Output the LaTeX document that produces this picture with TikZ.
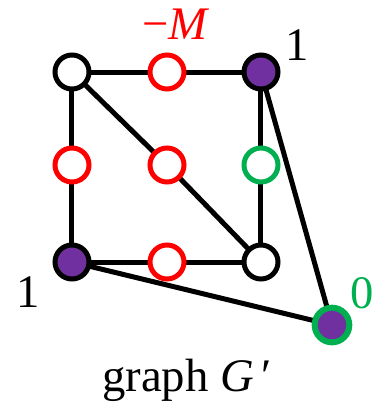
\documentclass[tikz,border=0pt]{standalone}
\usepackage{fontspec}
\setmainfont{Liberation Serif}
\usetikzlibrary{backgrounds}
\definecolor{vpurple}{HTML}{7030A0}
\definecolor{vgreen}{HTML}{00B050}
\definecolor{vred}{HTML}{FF0000}
\tikzset{
  vtx/.style={circle, draw=black, fill=white, line width=3.75pt, minimum size=25.5pt, inner sep=0pt},
  redv/.style={vtx, draw=vred},
  greenv/.style={vtx, draw=vgreen},
  purv/.style={vtx, fill=vpurple},
  farv/.style={circle, draw=vgreen, fill=vpurple, line width=4.5pt, minimum size=26pt, inner sep=0pt},
  edge/.style={line width=3.75pt, black},
  lbl/.style={font=\fontsize{35}{38}\selectfont, inner sep=0pt}
}
\begin{document}
\begin{tikzpicture}[x=0.75pt, y=-0.75pt]
\useasboundingbox (0,0) rectangle (381,405);
\node[vtx] (TL) at (72,72) {};
\node[redv] (TM) at (167,72) {};
\node[purv] (TR) at (261,72) {};
\node[redv] (LM) at (72,165) {};
\node[redv] (CM) at (167,165) {};
\node[greenv] (RM) at (261,165) {};
\node[purv] (BL) at (72,262) {};
\node[redv] (BM) at (167,262) {};
\node[vtx] (BR) at (261,262) {};
\node[farv] (F) at (332,325) {};
\begin{scope}[on background layer]
\draw[edge] (TL.center) -- (TM.center);
\draw[edge] (TM.center) -- (TR.center);
\draw[edge] (TL.center) -- (LM.center);
\draw[edge] (LM.center) -- (BL.center);
\draw[edge] (BL.center) -- (BM.center);
\draw[edge] (BM.center) -- (BR.center);
\draw[edge] (TR.center) -- (RM.center);
\draw[edge] (RM.center) -- (BR.center);
\draw[edge] (TL.center) -- (CM.center);
\draw[edge] (CM.center) -- (BR.center);
\draw[edge] (TR.center) -- (F.center);
\draw[edge] (BL.center) -- (F.center);
\end{scope}
\node[lbl, text=vred] (lm) at (176,24) {−\textit{M}};
\node[lbl] (l1) at (297,45) {1};
\node[lbl] (l2) at (28,292) {1};
\node[lbl, text=vgreen] (l0) at (362,293) {0};
\node[lbl] (cap) at (187,380) {graph \textit{G}\,′};
\end{tikzpicture}
\end{document}
